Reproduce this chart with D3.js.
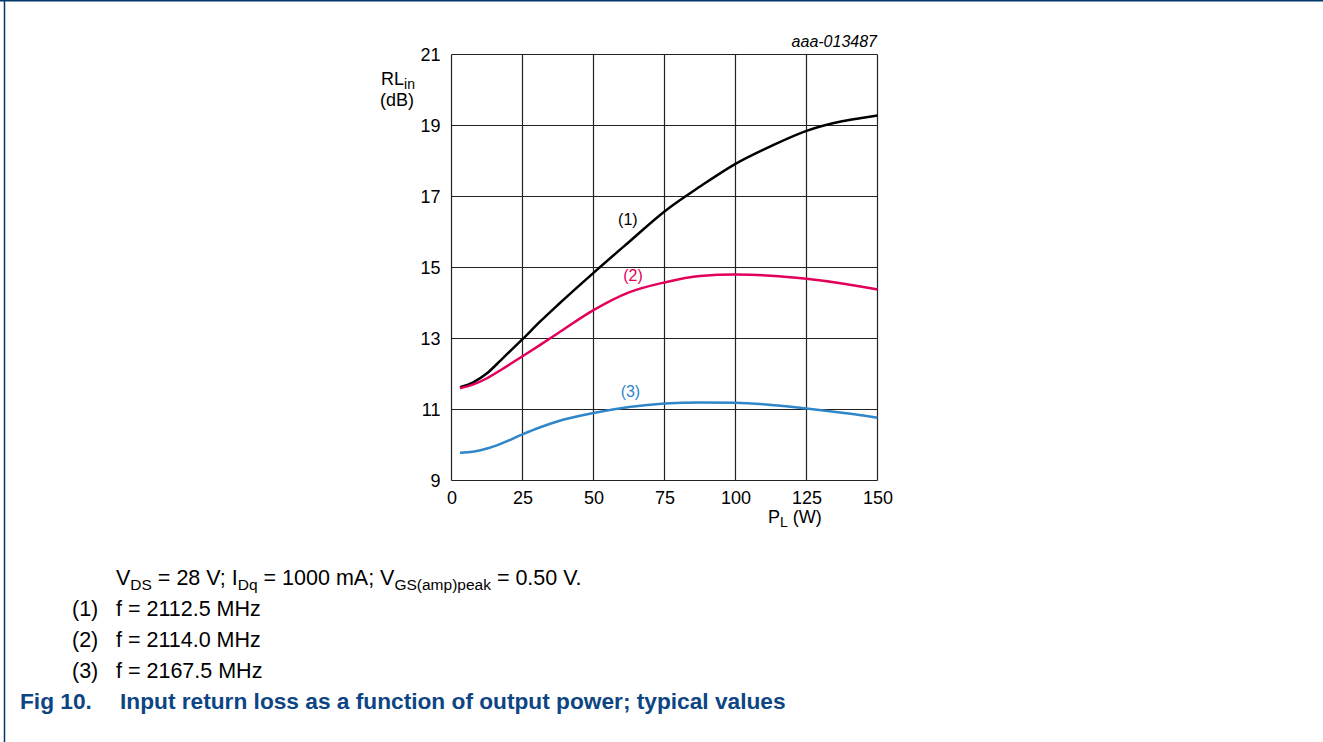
<!DOCTYPE html>
<html><head><meta charset="utf-8">
<script src="https://cdn.jsdelivr.net/npm/d3@7"></script>
<style>
body{margin:0;background:#fff;}
svg text{font-family:"Liberation Sans",Arial,sans-serif;}
</style></head>
<body>
<svg id="c" width="1323" height="742"></svg>
<script>
const xTicks = [0, 25, 50, 75, 100, 125, 150];
const yTicks = [9, 11, 13, 15, 17, 19, 21];
const power = [3, 7.5, 12.5, 17.5, 25, 31.25, 37.5, 50, 62.5, 75, 87.5, 100, 112.5, 125, 137.5, 145, 150];
const rl1 = [11.63, 11.76, 12.02, 12.4, 12.98, 13.48, 13.95, 14.85, 15.72, 16.58, 17.28, 17.92, 18.42, 18.85, 19.12, 19.22, 19.28];
const rl2 = [11.6, 11.7, 11.88, 12.12, 12.5, 12.82, 13.15, 13.8, 14.3, 14.58, 14.76, 14.8, 14.77, 14.68, 14.55, 14.45, 14.38];
const rl3 = [9.78, 9.81, 9.9, 10.04, 10.3, 10.5, 10.67, 10.9, 11.07, 11.17, 11.2, 11.19, 11.13, 11.03, 10.91, 10.83, 10.77];
const seriesNames = ["(1)", "(2)", "(3)"];
const seriesColors = ["#000000", "#e2005a", "#2f86c9"];
const legendLines = ["f = 2112.5 MHz", "f = 2114.0 MHz", "f = 2167.5 MHz"];

const svg = d3.select("#c");
const W = 1323, H = 742;
// frame
svg.append("line").attr("x1",0).attr("x2",W).attr("y1",0.5).attr("y2",0.5).attr("stroke","#00386f").attr("stroke-width",2);
svg.append("line").attr("x1",4.5).attr("x2",4.5).attr("y1",0).attr("y2",H).attr("stroke","#00386f").attr("stroke-width",1.5);

const x = d3.scaleLinear().domain([0,150]).range([451.5, 877.5]);
const y = d3.scaleLinear().domain([9,21]).range([480.5, 54.5]);

const g = svg.append("g");
// grid
g.selectAll(".vg").data(xTicks).join("line")
  .attr("x1",d=>x(d)).attr("x2",d=>x(d)).attr("y1",y(9)).attr("y2",y(21))
  .attr("stroke","#222").attr("stroke-width",1.2);
g.selectAll(".hg").data(yTicks).join("line")
  .attr("x1",x(0)).attr("x2",x(150)).attr("y1",d=>y(d)).attr("y2",d=>y(d))
  .attr("stroke","#222").attr("stroke-width",1.2);

// axes labels via d3 axes
const xAxis = d3.axisBottom(x).tickValues(xTicks).tickSize(0).tickPadding(11);
const ax = svg.append("g").attr("transform",`translate(0,${y(9)})`).call(xAxis);
ax.select(".domain").remove();
ax.selectAll("text").attr("font-size",18).attr("fill","#000").attr("font-family","Liberation Sans, Arial, sans-serif");
const yAxis = d3.axisLeft(y).tickValues(yTicks).tickSize(0).tickPadding(11);
const ay = svg.append("g").attr("transform",`translate(${x(0)},0)`).call(yAxis);
ay.select(".domain").remove();
ay.selectAll("text").attr("font-size",18).attr("fill","#000").attr("font-family","Liberation Sans, Arial, sans-serif");

// lines
const line = d3.line().x(d=>x(d[0])).y(d=>y(d[1])).curve(d3.curveMonotoneX);
[rl1, rl2, rl3].forEach((s,i)=>{
  g.append("path").datum(power.map((p,j)=>[p,s[j]]))
   .attr("d",line).attr("fill","none").attr("stroke",seriesColors[i]).attr("stroke-width",2.5);
});

// series labels
const labelPos = [[62.1,16.2],[63.9,14.62],[63,11.35]];
seriesNames.forEach((n,i)=>{
  svg.append("text").attr("x",x(labelPos[i][0])).attr("y",y(labelPos[i][1])).attr("text-anchor","middle")
   .attr("font-size",16).attr("fill",seriesColors[i]).text(n);
});

// axis titles
const yt = svg.append("text").attr("x",381).attr("y",85).attr("font-size",18);
yt.append("tspan").text("RL");
yt.append("tspan").attr("font-size",14).attr("dy",4).text("in");
svg.append("text").attr("x",380).attr("y",106).attr("font-size",18).text("(dB)");
const xt = svg.append("text").attr("x",768).attr("y",523).attr("font-size",18);
xt.append("tspan").text("P");
xt.append("tspan").attr("font-size",14).attr("dy",4).text("L");
xt.append("tspan").attr("dy",-4).text(" (W)");

svg.append("text").attr("x",877).attr("y",47).attr("text-anchor","end").attr("font-size",16)
  .attr("font-style","italic").text("aaa-013487");

// footer
const FS = 21.5, SS = 15.5;
const ft = svg.append("text").attr("x",116).attr("y",585).attr("font-size",FS);
ft.append("tspan").text("V");
ft.append("tspan").attr("font-size",SS).attr("dy",5).text("DS");
ft.append("tspan").attr("dy",-5).text(" = 28 V; I");
ft.append("tspan").attr("font-size",SS).attr("dy",5).text("Dq");
ft.append("tspan").attr("dy",-5).text(" = 1000 mA; V");
ft.append("tspan").attr("font-size",SS).attr("dy",5).text("GS(amp)peak");
ft.append("tspan").attr("dy",-5).text(" = 0.50 V.");

legendLines.forEach((t,i)=>{
  const yy = 616 + i*31;
  svg.append("text").attr("x",72).attr("y",yy).attr("font-size",FS).text(seriesNames[i]);
  svg.append("text").attr("x",116).attr("y",yy).attr("font-size",FS).text(t);
});

svg.append("text").attr("x",20).attr("y",709).attr("font-size",22.7).attr("font-weight","bold")
  .attr("fill","#0d4584").text("Fig 10.");
svg.append("text").attr("x",120).attr("y",709).attr("font-size",22.7).attr("font-weight","bold")
  .attr("fill","#0d4584").text("Input return loss as a function of output power; typical values");
</script>
</body></html>
